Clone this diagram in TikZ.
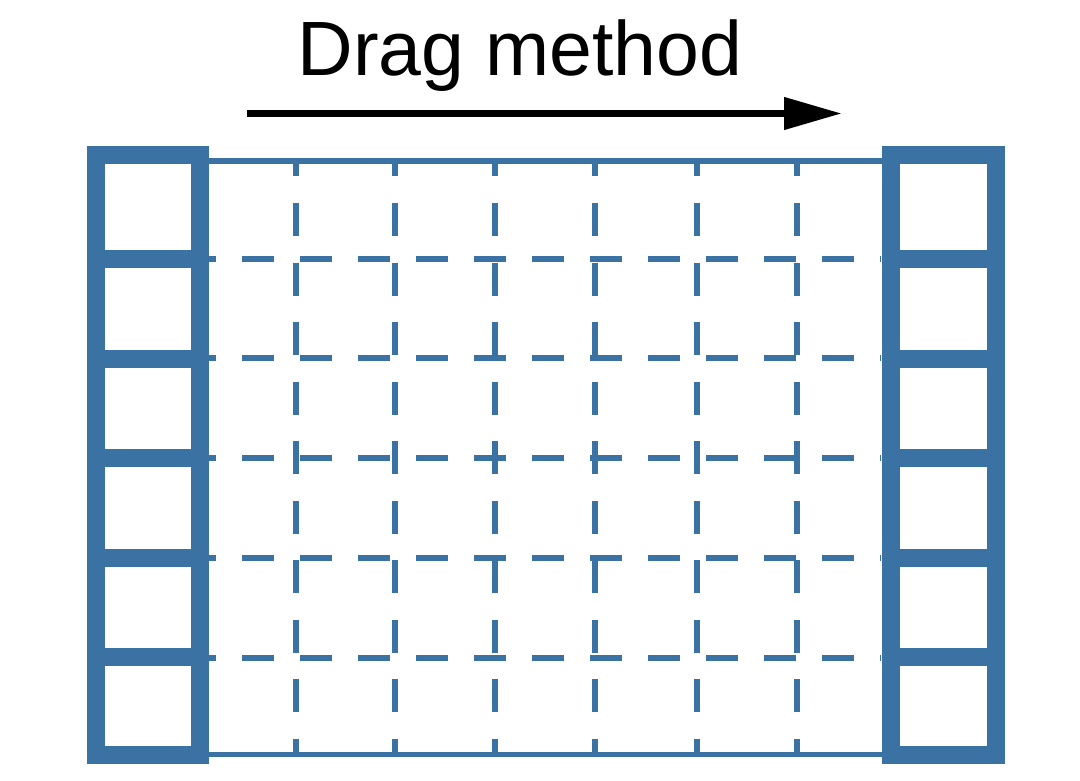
\documentclass[tikz,border=0pt]{standalone}
\usepackage{xcolor}
\usepackage{fontspec}
\setmainfont{Liberation Sans}
\usepackage{tikz}
\usetikzlibrary{arrows.meta}
\definecolor{gridblue}{RGB}{58,114,164}
\tikzset{
  frame/.style={draw=gridblue, line width=18pt},
  rail/.style={draw=gridblue, line width=5.5pt},
  hdash/.style={draw=gridblue, line width=5.5pt, dash pattern=on 32pt off 26pt},
  vdash/.style={draw=gridblue, line width=5.5pt, dash pattern=on 33pt off 26.5pt, dash phase=17.5pt},
}
\begin{document}
\begin{tikzpicture}[x=1pt, y=-1pt]
            \useasboundingbox (0,0) rectangle (1080,781);%
            {\fontsize{77}{80}\selectfont

            % Title over the arrow
            \node (title) [anchor=base, inner sep=0pt] at (520,76) {Drag method};%

            % Drawing arrow from start to end
            \coordinate (arrowstart) at (247,113.5);%
            \coordinate (arrowend) at (842,113.5);%
            \draw [line width=7.5pt, -{Triangle[length=58pt, width=31pt]}] (arrowstart) -- (arrowend);%

            % Drawing horizontal dashed lines
            \draw [hdash] (184,259) -- (881,259);%
            \draw [hdash] (184,358) -- (881,358);%
            \draw [hdash] (184,458) -- (881,458);%
            \draw [hdash] (184,558) -- (881,558);%
            \draw [hdash] (184,658) -- (881,658);%

            % Drawing vertical dashed lines
            \draw [vdash] (296,161) -- (296,754);%
            \draw [vdash] (395,161) -- (395,754);%
            \draw [vdash] (495,161) -- (495,754);%
            \draw [vdash] (595,161) -- (595,754);%
            \draw [vdash] (697,161) -- (697,754);%
            \draw [vdash] (797,161) -- (797,754);%

            % Drawing top and bottom rails
            \draw [rail] (200,161) -- (890,161);%
            \draw [rail] (200,754.5) -- (890,754.5);%

            % Drawing left column of boxes
            \draw [frame] (95.5,155.5) rectangle (199.5,755);%
            \draw [frame] (95.5,258.5) -- (199.5,258.5);%
            \draw [frame] (95.5,358.5) -- (199.5,358.5);%
            \draw [frame] (95.5,458) -- (199.5,458);%
            \draw [frame] (95.5,557.5) -- (199.5,557.5);%
            \draw [frame] (95.5,657) -- (199.5,657);%

            % Drawing right column of boxes
            \draw [frame] (890.5,155.5) rectangle (995.5,755);%
            \draw [frame] (890.5,258.5) -- (995.5,258.5);%
            \draw [frame] (890.5,358.5) -- (995.5,358.5);%
            \draw [frame] (890.5,458) -- (995.5,458);%
            \draw [frame] (890.5,557.5) -- (995.5,557.5);%
            \draw [frame] (890.5,657) -- (995.5,657);%
            }
\end{tikzpicture}
\end{document}
